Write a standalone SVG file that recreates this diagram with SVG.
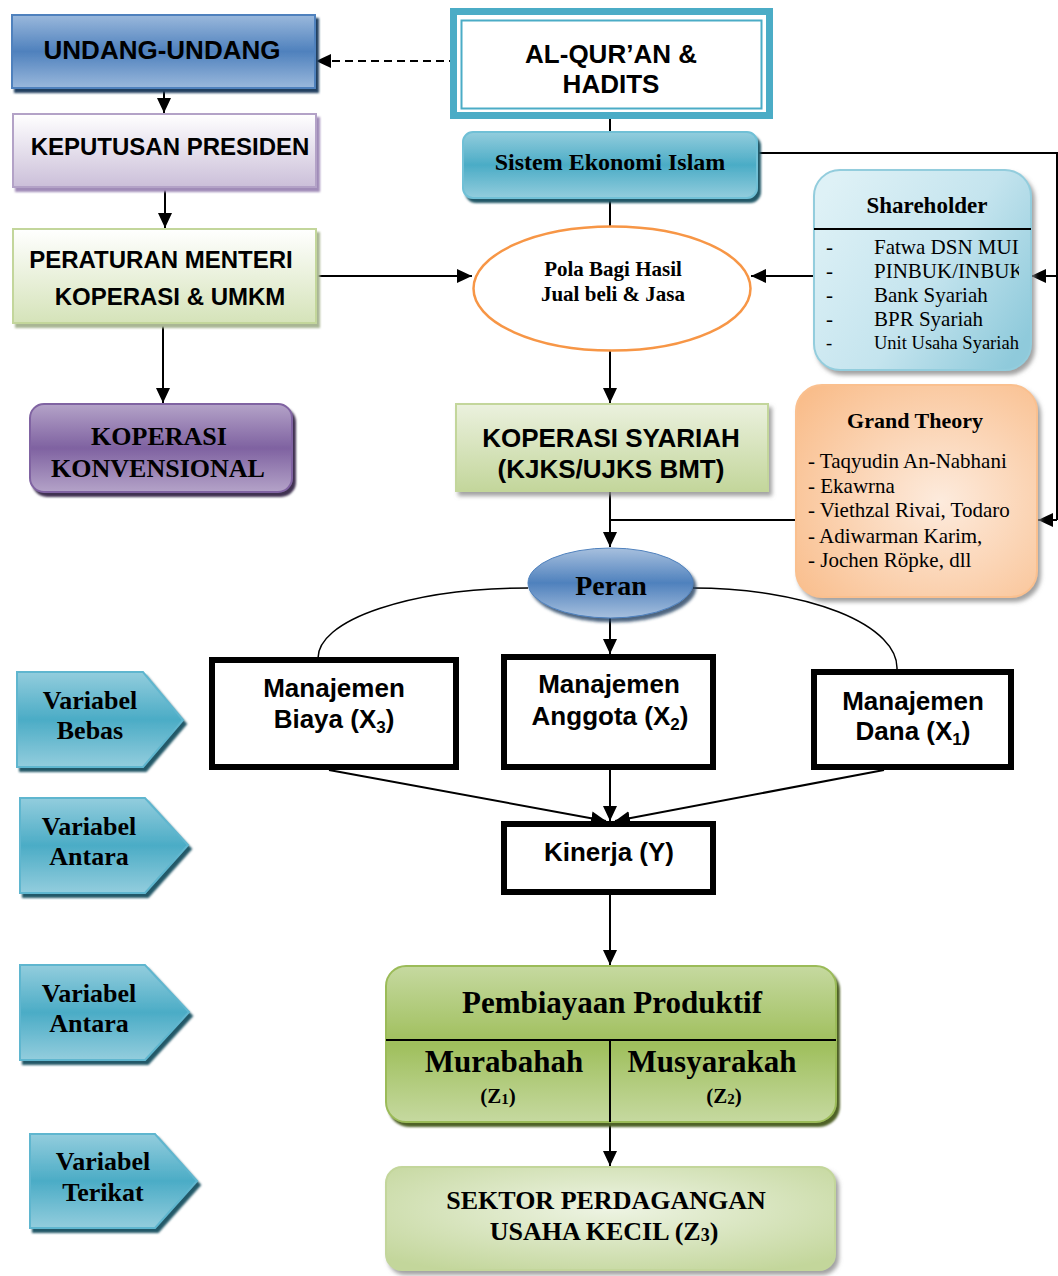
<svg xmlns="http://www.w3.org/2000/svg" width="1058" height="1276" viewBox="0 0 1058 1276">
  <defs>
    <style>
      .sans{font-family:"Liberation Sans",Arial,sans-serif;font-weight:bold;fill:#000}
      .serif{font-family:"Liberation Serif","Times New Roman",serif;fill:#000}
      .b{font-weight:bold}
      .mid{text-anchor:middle}
      .ln{fill:none;stroke:#000;stroke-width:2}
      .thin{fill:none;stroke:#000;stroke-width:1.5}
      .ar{marker-end:url(#ah)}
      .box{fill:#fff;stroke:#000;stroke-width:6}
      .var{fill:url(#gTeal);stroke:#5fb6cf;stroke-width:2;filter:url(#shTeal)}
    </style>
    <marker id="ah" markerUnits="userSpaceOnUse" markerWidth="16" markerHeight="16" viewBox="0 0 16 16" refX="15" refY="8" orient="auto">
      <path d="M0,1 L15,8 L0,15 z" fill="#000"/>
    </marker>
    <linearGradient id="gUU" x1="0" y1="0" x2="0" y2="1">
      <stop offset="0" stop-color="#9ab8dc"/><stop offset="0.5" stop-color="#4f81bd"/><stop offset="1" stop-color="#9ab8dc"/>
    </linearGradient>
    <linearGradient id="gKP" x1="0" y1="0" x2="0" y2="1">
      <stop offset="0" stop-color="#ffffff"/><stop offset="1" stop-color="#cbbfd9"/>
    </linearGradient>
    <linearGradient id="gPM" x1="0" y1="0" x2="0" y2="1">
      <stop offset="0" stop-color="#ffffff"/><stop offset="1" stop-color="#d5e3b9"/>
    </linearGradient>
    <linearGradient id="gKK" x1="0" y1="0" x2="0" y2="1">
      <stop offset="0" stop-color="#b4a3c8"/><stop offset="0.5" stop-color="#7f62a1"/><stop offset="1" stop-color="#b4a3c8"/>
    </linearGradient>
    <linearGradient id="gTeal" x1="0" y1="0" x2="0" y2="1">
      <stop offset="0" stop-color="#93cddd"/><stop offset="0.5" stop-color="#4bacc6"/><stop offset="1" stop-color="#93cddd"/>
    </linearGradient>
    <linearGradient id="gSH" x1="0" y1="0.2" x2="1" y2="0.8">
      <stop offset="0" stop-color="#def1f6"/><stop offset="0.55" stop-color="#c4e4ee"/><stop offset="1" stop-color="#8fcadb"/>
    </linearGradient>
    <radialGradient id="gGT" cx="0.6" cy="0.55" r="0.75">
      <stop offset="0" stop-color="#fdebdd"/><stop offset="1" stop-color="#f9bd8b"/>
    </radialGradient>
    <linearGradient id="gKS" x1="0" y1="0" x2="0" y2="1">
      <stop offset="0" stop-color="#ebf1de"/><stop offset="1" stop-color="#c3d69b"/>
    </linearGradient>
    <linearGradient id="gPeran" x1="0" y1="0" x2="0" y2="1">
      <stop offset="0" stop-color="#a7c0de"/><stop offset="0.5" stop-color="#4f81bd"/><stop offset="1" stop-color="#a7c0de"/>
    </linearGradient>
    <linearGradient id="gPemb" x1="0" y1="0" x2="0" y2="1">
      <stop offset="0" stop-color="#c6d9a0"/><stop offset="0.5" stop-color="#9fbf5c"/><stop offset="1" stop-color="#c6d9a0"/>
    </linearGradient>
    <radialGradient id="gSek" cx="0.5" cy="0.4" r="0.7">
      <stop offset="0" stop-color="#eef4e4"/><stop offset="1" stop-color="#c3d69b"/>
    </radialGradient>
    <filter id="shUU" x="-10%" y="-10%" width="125%" height="140%"><feDropShadow dx="3" dy="4" stdDeviation="0.8" flood-color="#243f60"/></filter>
    <filter id="shKP" x="-10%" y="-10%" width="125%" height="140%"><feDropShadow dx="3" dy="4" stdDeviation="1" flood-color="#a08cb8"/></filter>
    <filter id="shPM" x="-10%" y="-10%" width="125%" height="140%"><feDropShadow dx="3" dy="4" stdDeviation="1.2" flood-color="#a9b694"/></filter>
    <filter id="shKK" x="-10%" y="-10%" width="125%" height="140%"><feDropShadow dx="3" dy="4" stdDeviation="0.8" flood-color="#3f3151"/></filter>
    <filter id="shTeal" x="-10%" y="-10%" width="125%" height="140%"><feDropShadow dx="3" dy="4" stdDeviation="0.8" flood-color="#215968"/></filter>
    <filter id="shSoft" x="-10%" y="-10%" width="125%" height="130%"><feDropShadow dx="3" dy="4" stdDeviation="2" flood-color="#8a8a8a" flood-opacity="0.8"/></filter>
    <filter id="shPeran" x="-10%" y="-10%" width="125%" height="140%"><feDropShadow dx="3" dy="4" stdDeviation="1.5" flood-color="#243f60" flood-opacity="0.8"/></filter>
    <filter id="shPemb" x="-10%" y="-10%" width="125%" height="130%"><feDropShadow dx="3" dy="4" stdDeviation="1" flood-color="#4f6228"/></filter>
    <clipPath id="shClip"><rect x="814" y="231" width="205" height="139"/></clipPath>
  </defs>

  <rect width="1058" height="1276" fill="#fff"/>

  <!-- connectors -->
  <g id="connectors">
    <path class="ln ar" d="M457,61 H316" stroke-dasharray="8,5"/>
    <path class="ln ar" d="M164,88 V113"/>
    <path class="ln ar" d="M165,188 V228"/>
    <path class="ln ar" d="M317,276 H472"/>
    <path class="ln ar" d="M163,323 V403"/>
    <path class="ln" d="M610,119 V132"/>
    <path class="ln" d="M610,199 V227"/>
    <path class="ln" d="M757,153 H1057 V520"/>
    <path class="ln ar" d="M1057,276 H1031"/>
    <path class="ln ar" d="M1057,520 H1038"/>
    <path class="ln ar" d="M814,276 H751"/>
    <path class="ln ar" d="M610,351 V403"/>
    <path class="ln" d="M796,520 H610"/>
    <path class="ln ar" d="M610,491 V547"/>
    <path class="thin" d="M528,588 A210,70 0 0 0 318,658"/>
    <path class="thin" d="M693,588 A204,80 0 0 1 897,669"/>
    <path class="ln ar" d="M610,618 V654"/>
    <path class="ln ar" d="M329,770 L606,821"/>
    <path class="ln ar" d="M610,770 V821"/>
    <path class="ln ar" d="M884,770 L615,821"/>
    <path class="ln ar" d="M610,895 V965"/>
    <path class="ln ar" d="M610,1123 V1166"/>
  </g>

  <!-- legal hierarchy -->
  <g id="undang-undang">
    <rect x="12" y="15" width="303" height="73" fill="url(#gUU)" stroke="#4f81bd" stroke-width="2" filter="url(#shUU)"/>
    <text class="sans mid" x="162" y="59" font-size="26">UNDANG-UNDANG</text>
  </g>
  <g id="keputusan-presiden">
    <rect x="13" y="114" width="303" height="73" fill="url(#gKP)" stroke="#b3a2c7" stroke-width="2" filter="url(#shKP)"/>
    <text class="sans mid" x="170" y="155" font-size="24">KEPUTUSAN PRESIDEN</text>
  </g>
  <g id="peraturan-menteri">
    <rect x="13" y="229" width="303" height="94" fill="url(#gPM)" stroke="#c3d69b" stroke-width="2" filter="url(#shPM)"/>
    <text class="sans mid" x="161" y="268" font-size="24">PERATURAN MENTERI</text>
    <text class="sans mid" x="170" y="305" font-size="24">KOPERASI &amp; UMKM</text>
  </g>
  <g id="koperasi-konvensional">
    <rect x="30" y="404" width="262" height="88" rx="14" fill="url(#gKK)" stroke="#8064a2" stroke-width="2" filter="url(#shKK)"/>
    <text class="serif b mid" x="159" y="445" font-size="26">KOPERASI</text>
    <text class="serif b mid" x="158" y="477" font-size="26">KONVENSIONAL</text>
  </g>

  <!-- sources -->
  <g id="al-quran-hadits">
    <rect x="450" y="8" width="323" height="111" fill="#4bacc6"/>
    <rect x="457" y="15" width="309" height="97" fill="#fff"/>
    <rect x="461.5" y="20.5" width="300" height="88" fill="none" stroke="#4bacc6" stroke-width="2"/>
    <text class="sans mid" x="611" y="63" font-size="26">AL-QUR’AN &amp;</text>
    <text class="sans mid" x="611" y="93" font-size="26">HADITS</text>
  </g>
  <g id="sistem-ekonomi-islam">
    <rect x="463" y="132" width="294" height="66" rx="10" fill="url(#gTeal)" stroke="#6fc0d6" stroke-width="2" filter="url(#shTeal)"/>
    <text class="serif b mid" x="610" y="170" font-size="24">Sistem Ekonomi Islam</text>
  </g>
  <g id="pola-bagi-hasil">
    <ellipse cx="612" cy="288.5" rx="138.5" ry="62" fill="#fff" stroke="#f79646" stroke-width="2.5"/>
    <text class="serif b mid" x="613" y="276" font-size="21">Pola Bagi Hasil</text>
    <text class="serif b mid" x="613" y="301" font-size="21">Jual beli &amp; Jasa</text>
  </g>
  <g id="shareholder">
    <rect x="814" y="170" width="217" height="200" rx="26" fill="url(#gSH)" stroke="#93cddd" stroke-width="2" filter="url(#shSoft)"/>
    <text class="serif b mid" x="927" y="213" font-size="23">Shareholder</text>
    <line x1="814" y1="229" x2="1031" y2="229" stroke="#000" stroke-width="2"/>
    <g clip-path="url(#shClip)" class="serif" font-size="21">
      <text x="826" y="254">-</text><text x="874" y="254">Fatwa DSN MUI</text>
      <text x="826" y="278">-</text><text x="874" y="278">PINBUK/INBUK</text>
      <text x="826" y="302">-</text><text x="874" y="302">Bank Syariah</text>
      <text x="826" y="326">-</text><text x="874" y="326">BPR Syariah</text>
      <text x="826" y="349" font-size="18.5">-</text><text x="874" y="349" font-size="18.5">Unit Usaha Syariah</text>
    </g>
  </g>
  <g id="grand-theory">
    <rect x="796" y="385" width="241" height="212" rx="26" fill="url(#gGT)" stroke="#fac08f" stroke-width="2" filter="url(#shSoft)"/>
    <text class="serif b mid" x="915" y="428" font-size="22">Grand Theory</text>
    <g class="serif" font-size="21">
      <text x="808" y="468">- Taqyudin An-Nabhani</text>
      <text x="808" y="493">- Ekawrna</text>
      <text x="808" y="517">- Viethzal Rivai, Todaro</text>
      <text x="808" y="543">- Adiwarman Karim,</text>
      <text x="808" y="567">- Jochen Röpke, dll</text>
    </g>
  </g>
  <g id="koperasi-syariah">
    <rect x="456" y="404" width="312" height="87" fill="url(#gKS)" stroke="#c3d69b" stroke-width="2" filter="url(#shSoft)"/>
    <text class="sans mid" x="611" y="447" font-size="26">KOPERASI SYARIAH</text>
    <text class="sans mid" x="611" y="478" font-size="26">(KJKS/UJKS BMT)</text>
  </g>
  <g id="peran">
    <ellipse cx="610.5" cy="583" rx="82.5" ry="35" fill="url(#gPeran)" stroke="#4f81bd" stroke-width="1" filter="url(#shPeran)"/>
    <text class="serif b mid" x="611" y="595" font-size="28">Peran</text>
  </g>

  <!-- research variables -->
  <g id="manajemen-biaya">
    <rect class="box" x="212" y="660" width="244" height="107"/>
    <text class="sans mid" x="334" y="697" font-size="26">Manajemen</text>
    <text class="sans mid" x="334" y="728" font-size="26">Biaya (X<tspan font-size="17" dy="5">3</tspan><tspan dy="-5">)</tspan></text>
  </g>
  <g id="manajemen-anggota">
    <rect class="box" x="504" y="657" width="209" height="110"/>
    <text class="sans mid" x="609" y="693" font-size="26">Manajemen</text>
    <text class="sans mid" x="610" y="725" font-size="26">Anggota (X<tspan font-size="17" dy="5">2</tspan><tspan dy="-5">)</tspan></text>
  </g>
  <g id="manajemen-dana">
    <rect class="box" x="814" y="672" width="197" height="95"/>
    <text class="sans mid" x="913" y="710" font-size="26">Manajemen</text>
    <text class="sans mid" x="913" y="740" font-size="26">Dana (X<tspan font-size="17" dy="5">1</tspan><tspan dy="-5">)</tspan></text>
  </g>
  <g id="kinerja">
    <rect class="box" x="504" y="824" width="209" height="68"/>
    <text class="sans mid" x="609" y="861" font-size="26">Kinerja (Y)</text>
  </g>
  <g id="pembiayaan-produktif">
    <rect x="386" y="966" width="450" height="156" rx="20" fill="url(#gPemb)" stroke="#9bbb59" stroke-width="2" filter="url(#shPemb)"/>
    <line x1="386" y1="1040" x2="836" y2="1040" stroke="#000" stroke-width="2"/>
    <line x1="610" y1="1040" x2="610" y2="1122" stroke="#000" stroke-width="2"/>
    <text class="serif b mid" x="612" y="1013" font-size="31">Pembiayaan Produktif</text>
    <text class="serif b mid" x="504" y="1072" font-size="31">Murabahah</text>
    <text class="serif b mid" x="498" y="1103" font-size="21">(Z<tspan font-size="15" dy="1">1</tspan><tspan dy="-1">)</tspan></text>
    <text class="serif b mid" x="712" y="1072" font-size="31">Musyarakah</text>
    <text class="serif b mid" x="724" y="1103" font-size="21">(Z<tspan font-size="15" dy="1">2</tspan><tspan dy="-1">)</tspan></text>
  </g>
  <g id="sektor-perdagangan">
    <rect x="386" y="1167" width="449" height="103" rx="16" fill="url(#gSek)" stroke="#c3d69b" stroke-width="2" filter="url(#shSoft)"/>
    <text class="serif b mid" x="606" y="1209" font-size="26">SEKTOR PERDAGANGAN</text>
    <text class="serif b mid" x="604" y="1240" font-size="26">USAHA KECIL (Z<tspan font-size="18" dy="1">3</tspan><tspan dy="-1">)</tspan></text>
  </g>

  <!-- variable labels -->
  <g id="variabel-bebas">
    <path class="var" d="M17,672 H143 L183,720 L143,767 H17 Z"/>
    <text class="serif b mid" x="90" y="709" font-size="26">Variabel</text>
    <text class="serif b mid" x="90" y="739" font-size="26">Bebas</text>
  </g>
  <g id="variabel-antara-1">
    <path class="var" d="M20,798 H145 L188,845 L145,893 H20 Z"/>
    <text class="serif b mid" x="89" y="835" font-size="26">Variabel</text>
    <text class="serif b mid" x="89" y="865" font-size="26">Antara</text>
  </g>
  <g id="variabel-antara-2">
    <path class="var" d="M20,965 H145 L189,1012 L145,1060 H20 Z"/>
    <text class="serif b mid" x="89" y="1002" font-size="26">Variabel</text>
    <text class="serif b mid" x="89" y="1032" font-size="26">Antara</text>
  </g>
  <g id="variabel-terikat">
    <path class="var" d="M30,1134 H155 L197,1181 L155,1228 H30 Z"/>
    <text class="serif b mid" x="103" y="1170" font-size="26">Variabel</text>
    <text class="serif b mid" x="103" y="1201" font-size="26">Terikat</text>
  </g>
</svg>
